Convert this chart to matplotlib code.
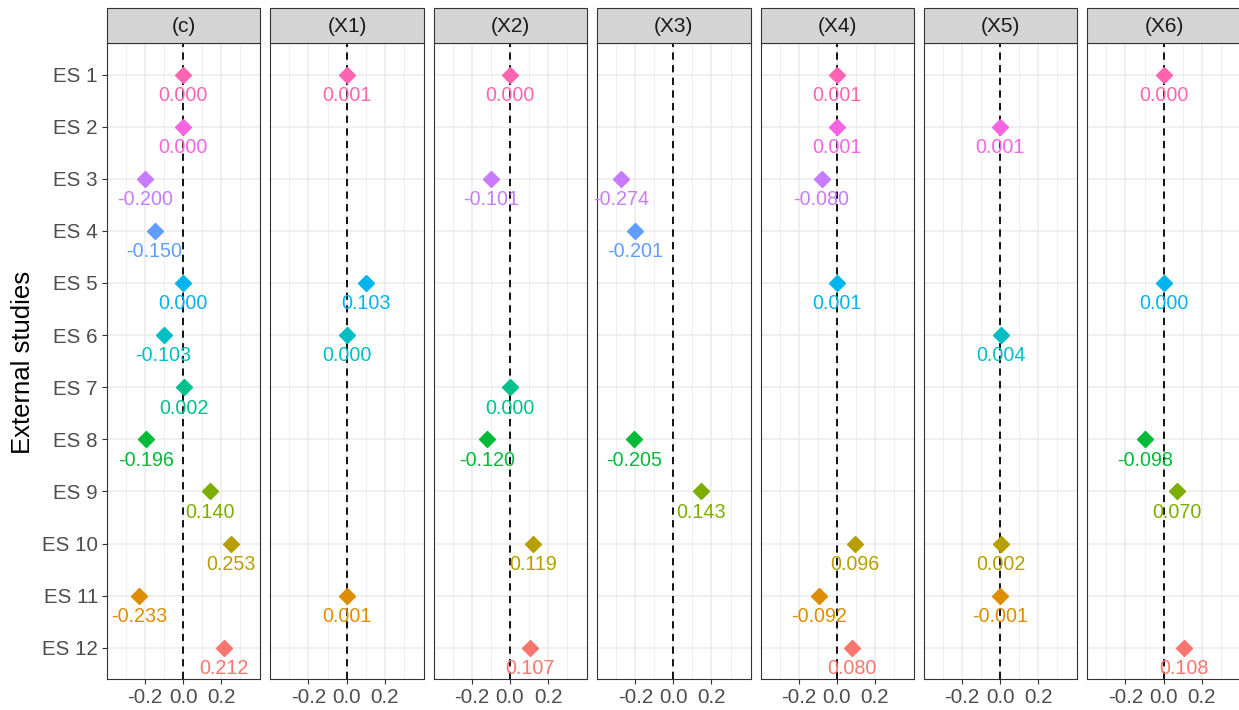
import matplotlib.pyplot as plt
from matplotlib.patches import Rectangle

plt.rcParams['font.family'] = ['Liberation Sans', 'DejaVu Sans']

studies = [f"ES {i}" for i in range(1, 13)]
panels = ["(c)", "(X1)", "(X2)", "(X3)", "(X4)", "(X5)", "(X6)"]

# ggplot hue palette, one colour per study (ES 1 .. ES 12)
colors = ["#FF64B0", "#F564E3", "#C77CFF", "#619CFF", "#00B4F0", "#00BFC4",
          "#00C08B", "#00BA38", "#7CAE00", "#B79F00", "#DE8C00", "#F8766D"]

# estimates per panel, None where the study has no estimate
est_c = [0.000, 0.000, -0.200, -0.150, 0.000, -0.103, 0.002, -0.196, 0.140, 0.253, -0.233, 0.212]
est_x1 = [0.001, None, None, None, 0.103, 0.000, None, None, None, None, 0.001, None]
est_x2 = [0.000, None, -0.101, None, None, None, 0.000, -0.120, None, 0.119, None, 0.107]
est_x3 = [None, None, -0.274, -0.201, None, None, None, -0.205, 0.143, None, None, None]
est_x4 = [0.001, 0.001, -0.080, None, 0.001, None, None, None, None, 0.096, -0.092, 0.080]
est_x5 = [None, 0.001, None, None, None, 0.004, None, None, None, 0.002, -0.001, None]
est_x6 = [0.000, None, None, None, 0.000, None, None, -0.098, 0.070, None, None, 0.108]
estimates = [est_c, est_x1, est_x2, est_x3, est_x4, est_x5, est_x6]

x_ticks = [-0.2, 0.0, 0.2]
x_ticklabels = ["-0.2", "0.0", "0.2"]

W, H = 1239, 710
fig = plt.figure(figsize=(W / 100, H / 100), dpi=100)

panel_left0 = 107
panel_step = 163.4
panel_w = 153.3
panel_top = 43.3
panel_bottom = 679
strip_top = 8.3

for p, (name, vals) in enumerate(zip(panels, estimates)):
    left = panel_left0 + p * panel_step
    ax = fig.add_axes([left / W, 1 - panel_bottom / H, panel_w / W,
                       (panel_bottom - panel_top) / H])
    ax.set_xlim(-0.4, 0.405)
    ax.set_ylim(12.6, 0.4)

    ax.set_xticks(x_ticks)
    ax.set_xticklabels(x_ticklabels)
    ax.set_xticks([-0.3, -0.1, 0.1, 0.3], minor=True)
    ax.set_yticks(range(1, 13))
    ax.set_yticklabels(studies if p == 0 else [])
    ax.grid(which="major", color="#EBEBEB", linewidth=1.1, zorder=0)
    ax.grid(which="minor", axis="x", color="#EBEBEB", linewidth=0.55, zorder=0)
    ax.set_axisbelow(True)
    ax.tick_params(axis="both", which="major", length=3.5, width=0.8,
                   color="#333333", labelsize=14.8, labelcolor="#4D4D4D", pad=3)
    ax.tick_params(axis="both", which="minor", length=0)
    if p > 0:
        ax.tick_params(axis="y", which="major", length=0)
    for s in ax.spines.values():
        s.set_color("#333333")
        s.set_linewidth(0.8)

    ax.axvline(0, color="black", linestyle=(0, (4, 3)), linewidth=1.3, zorder=2)

    for i, v in enumerate(vals):
        if v is None:
            continue
        y = i + 1
        ax.plot(v, y, marker="D", markersize=7.8, color=colors[i],
                linestyle="none", zorder=3)
        ax.text(v, y + 0.4, f"{v:.3f}", color=colors[i], fontsize=14.2,
                ha="center", va="center", zorder=4)

    # facet strip above the panel
    sax = fig.add_axes([left / W, 1 - panel_top / H, panel_w / W,
                        (panel_top - strip_top) / H])
    sax.set_xlim(0, 1)
    sax.set_ylim(0, 1)
    sax.axis("off")
    sax.add_patch(Rectangle((0, 0), 1, 1, facecolor="#D4D4D4",
                            edgecolor="#333333", linewidth=0.8, clip_on=False))
    sax.text(0.5, 0.47, name, ha="center", va="center", fontsize=15,
             color="#1A1A1A")

fig.text(23 / W, 1 - 362 / H, "External studies", rotation=90, ha="center",
         va="center", fontsize=18.5, color="black")

fig.savefig("out.png", dpi=100)
